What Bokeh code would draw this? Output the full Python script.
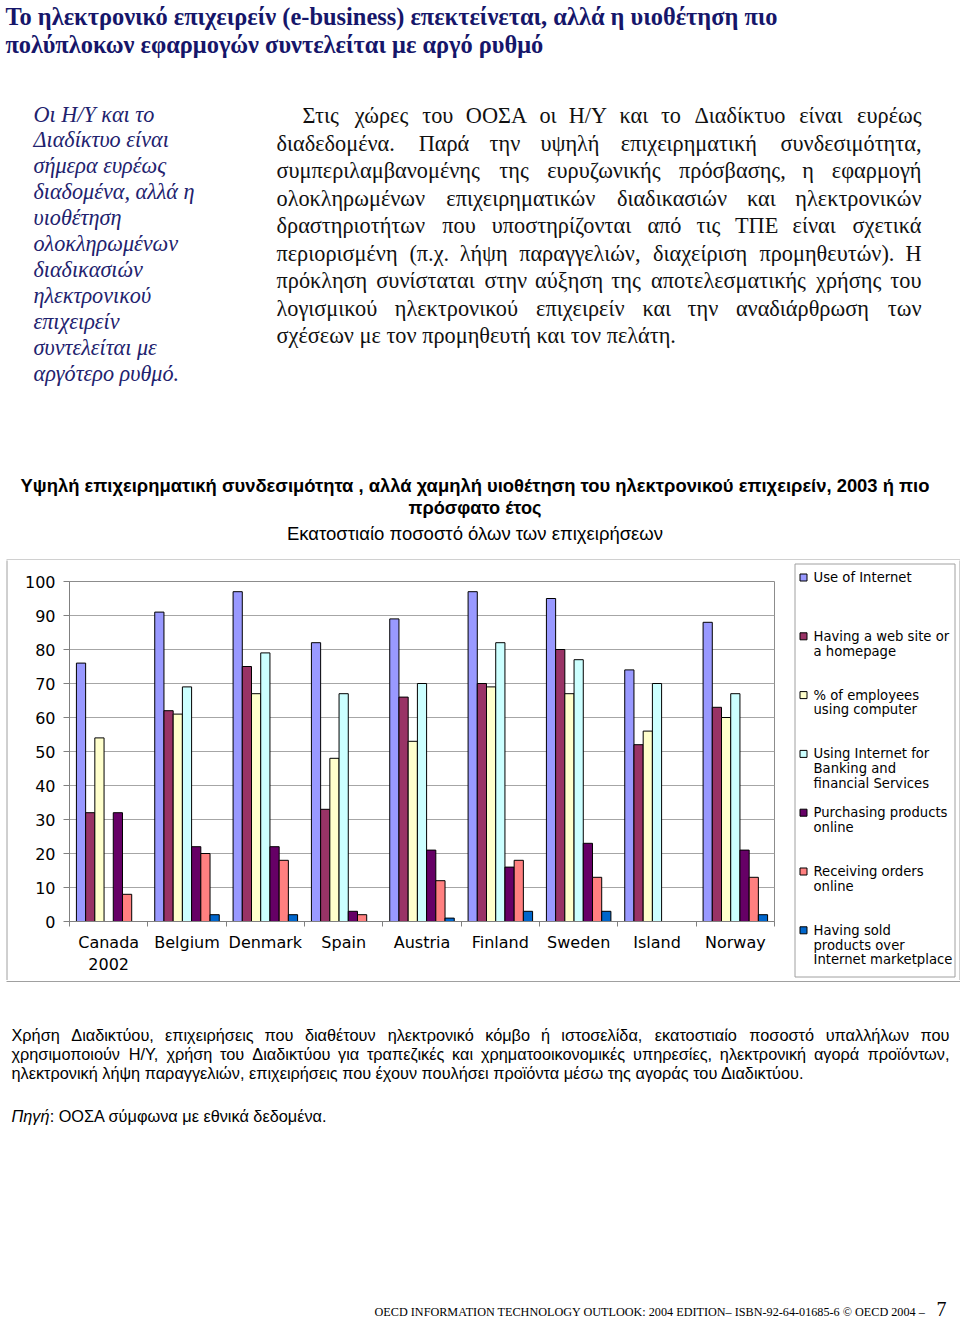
import unicodedata
import numpy as np
from bokeh.plotting import figure
from bokeh.layouts import column, row
from bokeh.models import Range1d, FixedTicker
from bokeh.core.properties import value
from bokeh.embed import file_html
from bokeh.resources import INLINE

# ---------------- data ----------------
countries = ["Canada\n2002", "Belgium", "Denmark", "Spain", "Austria",
             "Finland", "Sweden", "Island", "Norway"]
nan = float("nan")
use_internet = [76, 91, 97, 82, 89, 97, 95, 74, 88]
web_site = [32, 62, 75, 33, 66, 70, 80, 52, 63]
employees_computer = [54, 61, 67, 48, 53, 69, 67, 56, 60]
internet_banking = [nan, 69, 79, 67, 70, 82, 77, 70, 67]
purchasing_online = [32, 22, 22, 3, 21, 16, 23, nan, 21]
receiving_orders = [8, 20, 18, 2, 12, 18, 13, nan, 13]
sold_marketplace = [nan, 2, 2, nan, 1, 3, 3, nan, 2]
series_values = [use_internet, web_site, employees_computer, internet_banking,
                 purchasing_online, receiving_orders, sold_marketplace]
series_names = [
    ["Use of Internet"],
    ["Having a web site or", "a homepage"],
    ["% of employees", "using  computer"],
    ["Using Internet for", "Banking and", "financial Services"],
    ["Purchasing products", "online"],
    ["Receiving orders", "online"],
    ["Having sold", "products over", "Internet marketplace"],
]
series_colors = ["#9999FF", "#993366", "#FFFFCC", "#CCFFFF", "#660066", "#FF8080", "#0066CC"]
y_ticks = list(range(0, 101, 10))

heading = ["Το ηλεκτρονικό επιχειρείν (e-business) επεκτείνεται, αλλά η υιοθέτηση πιο",
           "πολύπλοκων εφαρμογών συντελείται με αργό ρυθμό"]
sidebar = ["Οι Η/Υ και το", "Διαδίκτυο είναι", "σήμερα ευρέως", "διαδομένα, αλλά η",
           "υιοθέτηση", "ολοκληρωμένων", "διαδικασιών", "ηλεκτρονικού", "επιχειρείν",
           "συντελείται με", "αργότερο ρυθμό."]
paragraph = [
    "Στις χώρες του ΟΟΣΑ οι Η/Υ και το Διαδίκτυο είναι ευρέως",
    "διαδεδομένα. Παρά την υψηλή επιχειρηματική συνδεσιμότητα,",
    "συμπεριλαμβανομένης της ευρυζωνικής πρόσβασης, η εφαρμογή",
    "ολοκληρωμένων επιχειρηματικών διαδικασιών και ηλεκτρονικών",
    "δραστηριοτήτων που υποστηρίζονται από τις ΤΠΕ είναι σχετικά",
    "περιορισμένη (π.χ. λήψη παραγγελιών, διαχείριση προμηθευτών). Η",
    "πρόκληση συνίσταται στην αύξηση της αποτελεσματικής χρήσης του",
    "λογισμικού ηλεκτρονικού επιχειρείν και την αναδιάρθρωση των",
    "σχέσεων με τον προμηθευτή και τον πελάτη.",
]
chart_title = ["Υψηλή επιχειρηματική συνδεσιμότητα , αλλά χαμηλή υιοθέτηση του ηλεκτρονικού επιχειρείν, 2003 ή πιο",
               "πρόσφατο έτος"]
chart_subtitle = "Εκατοστιαίο ποσοστό όλων των επιχειρήσεων"
notes = [
    "Χρήση Διαδικτύου, επιχειρήσεις που διαθέτουν ηλεκτρονικό κόμβο ή ιστοσελίδα, εκατοστιαίο ποσοστό υπαλλήλων που",
    "χρησιμοποιούν Η/Υ, χρήση του Διαδικτύου για τραπεζικές και χρηματοοικονομικές υπηρεσίες, ηλεκτρονική αγορά προϊόντων,",
    "ηλεκτρονική λήψη παραγγελιών, επιχειρήσεις που έχουν πουλήσει προϊόντα μέσω της αγοράς του Διαδικτύου.",
]
source_label = "Πηγή"
source_text = ": ΟΟΣΑ σύμφωνα με εθνικά δεδομένα."
footer_text = "OECD INFORMATION TECHNOLOGY OUTLOOK: 2004 EDITION– ISBN-92-64-01685-6 © OECD 2004  –"
page_number = "7"

# ---------------- fonts / metrics ----------------
SERIF = "Liberation Serif"
SANS = "DejaVu Sans"
ARIAL = "Liberation Sans"

TIMES_W = {' ': .25, '.': .25, ',': .25, '(': .333, ')': .333, '/': .278, '-': .333, ':': .278,
           'α': .54, 'β': .5, 'γ': .44, 'δ': .5, 'ε': .43, 'ζ': .44, 'η': .5, 'θ': .5, 'ι': .28,
           'κ': .5, 'λ': .48, 'μ': .54, 'ν': .46, 'ξ': .44, 'ο': .5, 'π': .53, 'ρ': .5, 'σ': .54,
           'ς': .43, 'τ': .43, 'υ': .5, 'φ': .65, 'χ': .48, 'ψ': .68, 'ω': .69,
           'Η': .72, 'Υ': .72, 'Ο': .72, 'Σ': .6, 'Α': .72, 'Τ': .61, 'Π': .72, 'Ε': .61, 'Δ': .65}
ARIAL_W = {' ': .278, '.': .278, ',': .278, '/': .278, ':': .278,
           'α': .58, 'β': .57, 'γ': .5, 'δ': .56, 'ε': .45, 'ζ': .44, 'η': .56, 'θ': .56, 'ι': .22,
           'κ': .5, 'λ': .5, 'μ': .58, 'ν': .5, 'ξ': .45, 'ο': .56, 'π': .69, 'ρ': .57, 'σ': .62,
           'ς': .48, 'τ': .44, 'υ': .55, 'φ': .65, 'χ': .5, 'ψ': .71, 'ω': .78,
           'Η': .72, 'Υ': .67, 'Δ': .67, 'Χ': .67, 'Π': .72, 'Ο': .78, 'Σ': .62, 'Α': .67}


def est_width(s, table, size):
    w = 0.0
    for ch in s:
        base = unicodedata.normalize("NFD", ch)[0]
        w += table.get(base, 0.65 if base.isupper() else 0.5)
    return w * size


def no_align(f):
    if "frame_align" in f.properties():
        f.frame_align = False


def page_fig(x0, x1, y0, y1):
    f = figure(width=int(x1 - x0), height=int(y1 - y0),
               x_range=Range1d(x0, x1), y_range=Range1d(y1, y0),
               x_axis_type=None, y_axis_type=None, toolbar_location=None,
               output_backend="svg", min_border=0)
    f.outline_line_color = None
    f.background_fill_color = "white"
    f.border_fill_color = "white"
    no_align(f)
    return f


def add_text(f, xs, ys, texts, font, size, color="black", align="left",
             style="normal", baseline="alphabetic"):
    f.text(x=xs, y=ys, text=texts, text_font=value(font), text_font_size=f"{size}px",
           text_color=color, text_align=align, text_baseline=baseline,
           text_font_style=style)


def justified(f, lines, x_first, x0, x1, y0, dy, font, size, table, color="black"):
    groups = {"left": ([], [], []), "center": ([], [], []), "right": ([], [], [])}
    for k, line in enumerate(lines):
        y = y0 + k * dy
        start = x_first if k == 0 else x0
        words = line.split()
        if k == len(lines) - 1 or len(words) == 1:
            g = groups["left"]
            g[0].append(start); g[1].append(y); g[2].append(line)
            continue
        widths = [est_width(w, table, size) for w in words]
        gap = (x1 - start - sum(widths)) / (len(words) - 1)
        pos = start
        for i, (w, wd) in enumerate(zip(words, widths)):
            if i == 0:
                g, xx = groups["left"], start
            elif i == len(words) - 1:
                g, xx = groups["right"], x1
            else:
                g, xx = groups["center"], pos + wd / 2
            g[0].append(xx); g[1].append(y); g[2].append(w)
            pos += wd + gap
    for align, (xs, ys, ts) in groups.items():
        if ts:
            add_text(f, xs, ys, ts, font, size, color=color, align=align)


BORDER = "#a0a0a0"

# ---------------- top part (page text) ----------------
top = page_fig(0, 960, 0, 560)
NAVY = "#16166A"
add_text(top, [5, 5], [15.5, 43.5], heading, SERIF, 24.4, color=NAVY, style="bold")
add_text(top, [33] * len(sidebar), [113.5 + 25.9 * k for k in range(len(sidebar))],
         sidebar, SERIF, 22.2, color="#22226E", style="italic")
justified(top, paragraph, 302, 276, 921, 115, 27.5, SERIF, 22.3, TIMES_W, color="#111111")
add_text(top, [474.5], [485], [chart_title[0]], ARIAL, 18.4, style="bold", align="center")
add_text(top, [474.5], [507], [chart_title[1]], ARIAL, 18.2, style="bold", align="center")
add_text(top, [474.5], [533], [chart_subtitle], ARIAL, 18.5, align="center")
top.segment(x0=[6], y0=[559.5], x1=[960], y1=[559.5], line_color=BORDER, line_width=1)

# ---------------- chart ----------------
chart = figure(width=782, height=420, x_range=Range1d(-0.5, 8.5), y_range=Range1d(0, 100),
               toolbar_location=None, output_backend="svg",
               min_border_left=61, min_border_right=16, min_border_top=21, min_border_bottom=59)
no_align(chart)
chart.background_fill_color = "white"
chart.border_fill_color = "white"
chart.outline_line_color = "#8c8c8c"
chart.xgrid.visible = False
chart.ygrid.ticker = FixedTicker(ticks=y_ticks)
chart.ygrid.grid_line_color = "#a6a6a6"

n_series = len(series_values)
bar_w = 1 / (n_series + 1.5)
for j, (vals, color) in enumerate(zip(series_values, series_colors)):
    xs = np.arange(len(countries)) + (j - (n_series - 1) / 2) * bar_w
    chart.vbar(x=xs, top=vals, bottom=0, width=bar_w, fill_color=color,
               line_color="black", line_width=1)

ya = chart.yaxis[0]
ya.ticker = FixedTicker(ticks=y_ticks)
ya.axis_line_color = "#808080"
ya.major_tick_line_color = "#808080"
ya.major_tick_out = 6
ya.major_tick_in = 0
ya.minor_tick_line_color = None
ya.major_label_text_font = SANS
ya.major_label_text_font_size = "16px"
ya.major_label_text_color = "black"
ya.major_label_standoff = 8

xa = chart.xaxis[0]
xa.ticker = FixedTicker(ticks=list(range(len(countries))),
                        minor_ticks=[i - 0.5 for i in range(len(countries) + 1)])
xa.major_label_overrides = {i: c for i, c in enumerate(countries)}
xa.axis_line_color = "#808080"
xa.major_tick_line_color = None
xa.major_tick_out = 0
xa.major_tick_in = 0
xa.minor_tick_line_color = "#808080"
xa.minor_tick_out = 5
xa.minor_tick_in = 0
xa.major_label_text_font = SANS
xa.major_label_text_font_size = "16px"
xa.major_label_text_color = "black"
xa.major_label_standoff = 6

# left strip carrying the outer chart border
strip = page_fig(0, 8, 560, 980)
strip.segment(x0=[6.5], y0=[559], x1=[6.5], y1=[981], line_color=BORDER, line_width=1)

# ---------------- legend ----------------
leg = page_fig(790, 960, 560, 980)
leg.quad(left=[794.5], right=[954.5], top=[563.5], bottom=[976.5], fill_color="white",
         line_color=BORDER, line_width=1)
leg.segment(x0=[959.5], y0=[559], x1=[959.5], y1=[981], line_color=BORDER, line_width=1)
entry_y = [577 + 58.8 * k for k in range(n_series)]
leg.rect(x=[803] * n_series, y=entry_y, width=7, height=7, fill_color=series_colors,
         line_color="black", line_width=1)
lx, ly, lt = [], [], []
for k, lines in enumerate(series_names):
    for l, t in enumerate(lines):
        lx.append(813); ly.append(entry_y[k] + 14.8 * l); lt.append(t)
add_text(leg, lx, ly, lt, SANS, 13.2, baseline="middle")

# ---------------- bottom part ----------------
bot = page_fig(0, 960, 980, 1320)
bot.segment(x0=[6], y0=[981], x1=[960], y1=[981], line_color=BORDER, line_width=1)
justified(bot, notes, 11, 11, 949, 1034.5, 19, ARIAL, 16.3, ARIAL_W)
add_text(bot, [11], [1115.5], [source_label], ARIAL, 16.3, style="italic")
add_text(bot, [11 + est_width(source_label, ARIAL_W, 16.3)], [1115.5], [source_text], ARIAL, 16.3)
add_text(bot, [928], [1311.5], [footer_text], SERIF, 12.2, align="right")
add_text(bot, [936], [1308], [page_number], SERIF, 20)

page = column(top, row(strip, chart, leg), bot)
open("out.html", "w").write(file_html(page, INLINE))
